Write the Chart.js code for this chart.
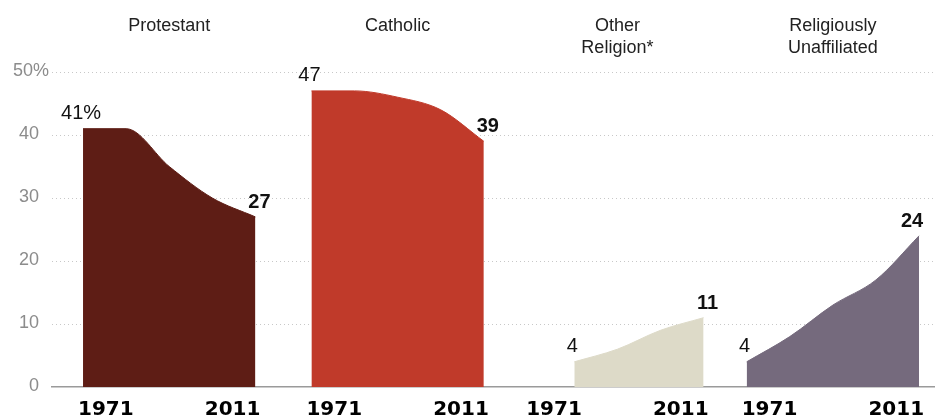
<!DOCTYPE html>
<html lang="en">
<head>
<meta charset="UTF-8">
<title>Religious affiliation 1971-2011</title>
<style>
    body { margin: 0; background: #fff; }
    .wrap { width: 935px; height: 418px; }
</style>
<script src="https://cdn.jsdelivr.net/npm/chart.js"></script>
</head>
<body>
<div class="wrap"><canvas id="religionChart" width="935" height="418"></canvas></div>
<script>
    // data (census years)
    const years = [1971, 1981, 1991, 2001, 2011];
    const groups = ['Protestant', 'Catholic', 'Other\nReligion*', 'Religiously\nUnaffiliated'];
    const protestant = [41, 41, 35, 30, 27];
    const catholic = [47, 47, 46, 44, 39];
    const otherReligion = [null, 4, 6, 9, 11];
    const unaffiliated = [4, 8, 13, 17, 24];
    const yTicks = [0, 10, 20, 30, 40, 50];

    // layout: where each small panel starts on the shared x axis (in years)
    const panelOffset = [0, 53, 104, 154];
    const colors = ['#5e1d15', '#c03a2a', '#dddac8', '#756a7d'];
    const series = [protestant, catholic, otherReligion, unaffiliated];

    const datasets = series.map((vals, p) => ({
        label: groups[p],
        data: years.map((yr, i) => ({ x: panelOffset[p] + (yr - years[0]), y: vals[i] }))
                   .filter(pt => pt.y !== null),
        backgroundColor: colors[p],
        borderColor: colors[p],
        borderWidth: 1,
        fill: 'origin',
        pointRadius: 0,
        cubicInterpolationMode: 'monotone'
    }));

    const labelPlugin = {
        id: 'panelLabels',
        afterDraw(chart) {
            const { ctx, scales: { x, y } } = chart;
            const span = years[years.length - 1] - years[0];
            ctx.save();

            // y axis labels
            ctx.font = '18px "Liberation Sans", Arial, sans-serif';
            ctx.fillStyle = '#8c8c8c';
            ctx.textAlign = 'right';
            ctx.textBaseline = 'middle';
            yTicks.forEach(v => {
                const top = v === yTicks[yTicks.length - 1];
                ctx.fillText(top ? v + '%' : String(v), top ? 49 : 39, y.getPixelForValue(v) - 1);
            });

            // panel titles
            ctx.fillStyle = '#222';
            ctx.textAlign = 'center';
            groups.forEach((g, p) => {
                const cx = x.getPixelForValue(panelOffset[p] + span / 2);
                g.split('\n').forEach((line, k) => ctx.fillText(line, cx, 26 + k * 22));
            });

            // start / end value labels
            ctx.fillStyle = '#111';
            ctx.textBaseline = 'alphabetic';
            datasets.forEach((ds, p) => {
                const pts = chart.getDatasetMeta(p).data;
                const first = pts[0], last = pts[pts.length - 1];
                const v0 = ds.data[0].y, v1 = ds.data[ds.data.length - 1].y;
                ctx.font = '20px "Liberation Sans", Arial, sans-serif';
                ctx.fillText(p === 0 ? v0 + '%' : String(v0), first.x - 2, first.y - 10);
                ctx.font = 'bold 20px "Liberation Sans", Arial, sans-serif';
                ctx.fillText(String(v1), Math.min(last.x + 4, chart.width - 23), last.y - 9);
            });

            // year labels under each panel
            ctx.font = 'bold 20px "DejaVu Sans", sans-serif';
            ctx.fillStyle = '#000';
            panelOffset.forEach(off => {
                ctx.textAlign = 'left';
                ctx.fillText(String(years[0]), x.getPixelForValue(off) - 5, 415);
                ctx.textAlign = 'right';
                ctx.fillText(String(years[years.length - 1]), x.getPixelForValue(off + span) + 5, 415);
            });
            ctx.restore();
        }
    };

    new Chart(document.getElementById('religionChart'), {
        type: 'line',
        data: { datasets: datasets },
        options: {
            responsive: false,
            animation: false,
            layout: { padding: { left: 52, right: 0, top: 72, bottom: 23 } },
            plugins: { legend: { display: false }, tooltip: { enabled: false } },
            scales: {
                x: {
                    type: 'linear',
                    min: -7.2,
                    max: 197.7,
                    ticks: { display: false },
                    grid: { display: false },
                    border: { display: true, color: '#9a9a9a', width: 1.5 }
                },
                y: {
                    min: 0,
                    max: 50,
                    ticks: { display: false, stepSize: 10 },
                    grid: {
                        drawTicks: false,
                        color: c => c.tick.value === 0 ? 'rgba(0,0,0,0)' : '#c8c8c8'
                    },
                    border: { display: false, dash: [1, 3] }
                }
            }
        },
        plugins: [labelPlugin]
    });
</script>
</body>
</html>
